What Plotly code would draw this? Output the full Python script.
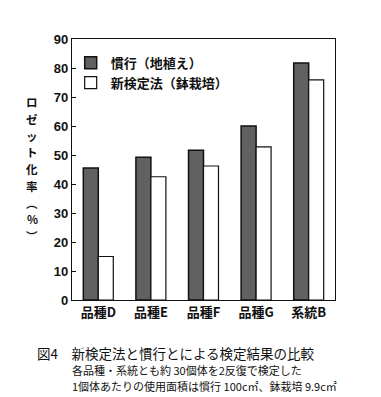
import plotly.graph_objects as go

categories = ["品種D", "品種E", "品種F", "品種G", "系統B"]
conventional = [45.5, 49.2, 51.6, 60.0, 81.7]
new_method = [15.0, 42.5, 46.2, 52.8, 75.9]
series_names = ["慣行（地植え）", "新検定法（鉢栽培）"]
y_ticks = [0, 10, 20, 30, 40, 50, 60, 70, 80, 90]
y_title_chars = ["ロ", "ゼ", "ッ", "ト", "化", "率", "︵", "%", "︶"]
caption_title = "図4　新検定法と慣行とによる検定結果の比較"
caption_lines = ["各品種・系統とも約 30個体を2反復で検定した",
                 "1個体あたりの使用面積は慣行 100c㎡、鉢栽培 9.9c㎡"]

JP = "Noto Sans CJK JP"
# page body has an 8px default margin; figure is shrunk so the plot lands where the reference has it
OFF = 8
W, H = 381 - OFF, 397 - OFF
PL, PR, PT, PB = 72, 335, 39, 300  # plot area in window pixels
PW, PH = PR - PL, PB - PT


def px(xw):
    return (xw - PL) / PW


def py(yw):
    return (PB - yw) / PH


fig = go.Figure()
fig.add_trace(go.Bar(
    x=categories, y=conventional, name=series_names[0],
    marker=dict(color="#616161", line=dict(color="#111111", width=1.5)),
))
fig.add_trace(go.Bar(
    x=categories, y=new_method, name=series_names[1],
    marker=dict(color="#ffffff", line=dict(color="#111111", width=1.2)),
))

fig.update_layout(
    width=W, height=H,
    margin=dict(l=PL - OFF, r=W - (PR - OFF), t=PT - OFF, b=H - (PB - OFF)),
    paper_bgcolor="white", plot_bgcolor="white",
    barmode="group", bargap=0.43, bargroupgap=0,
    showlegend=True,
    legend=dict(x=-0.005, y=0.966, xanchor="left", yanchor="top",
                bgcolor="rgba(0,0,0,0)",
                font=dict(family=JP, size=13, color="#111", weight="bold"),
                itemwidth=30),
    font=dict(family=JP, color="#111"),
)
fig.update_yaxes(
    range=[0, 90], tickvals=y_ticks, ticks="inside", ticklen=4, tickcolor="#111",
    showgrid=False, zeroline=False, showline=True, linecolor="#111", linewidth=1.2,
    mirror=True, tickfont=dict(family="Liberation Sans", size=13, color="#111", weight="bold"),
)
fig.update_xaxes(
    showgrid=False, showline=True, linecolor="#111", linewidth=1.2, mirror=True,
    ticks="", tickfont=dict(family=JP, size=13, color="#111", weight="bold"),
)

# vertical y-axis title, one character per annotation
for i, ch in enumerate(y_title_chars):
    fig.add_annotation(
        text=ch, xref="paper", yref="paper",
        x=px(32), y=py(102 + i * 16.75), xanchor="center", yanchor="middle",
        showarrow=False, font=dict(family=JP, size=11.5, color="#111", weight="bold"),
    )

fig.add_annotation(
    text=caption_title, xref="paper", yref="paper", x=px(35), y=py(353),
    xanchor="left", yanchor="middle", showarrow=False,
    font=dict(family=JP, size=13.5, color="#111"),
)
for j, line in enumerate(caption_lines):
    fig.add_annotation(
        text=line, xref="paper", yref="paper", x=px(70), y=py(370 + 16 * j),
        xanchor="left", yanchor="middle", showarrow=False, align="left",
        font=dict(family=JP, size=11, color="#111"),
    )

fig.write_html("out.html")
